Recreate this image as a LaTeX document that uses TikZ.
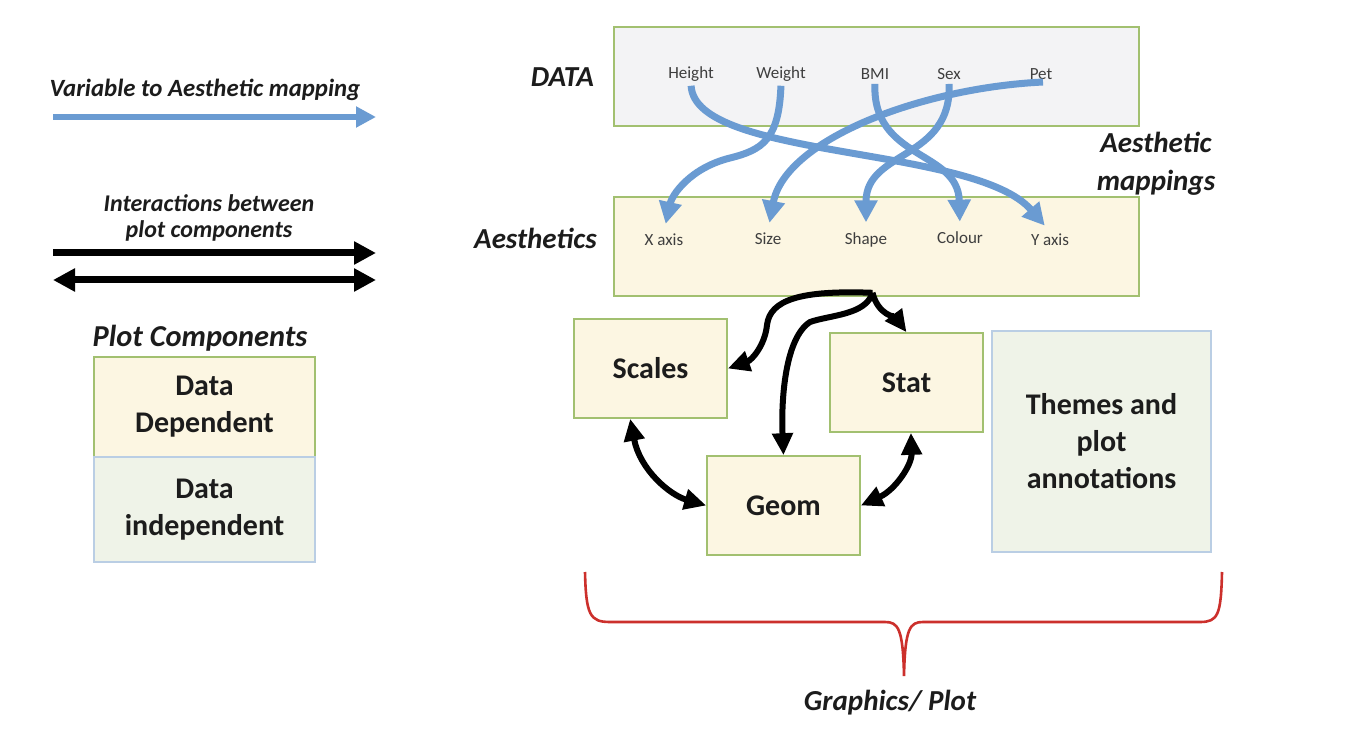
\documentclass[tikz,border=0pt]{standalone}
\usepackage{fontspec}
\setmainfont{Carlito}
\usetikzlibrary{arrows.meta}
\usetikzlibrary{positioning}

\definecolor{boxgreen}{RGB}{162,192,112}
\definecolor{boxblue}{RGB}{186,206,228}
\definecolor{creamfill}{RGB}{252,246,226}
\definecolor{grayfill}{RGB}{243,243,245}
\definecolor{palefill}{RGB}{239,243,232}
\definecolor{mapblue}{RGB}{106,155,210}
\definecolor{bracered}{RGB}{204,48,44}
\definecolor{textdark}{RGB}{28,28,28}

\begin{document}
\begin{tikzpicture}[x=0.5pt,y=-0.5pt]

\tikzset{
  % the boxes of the plot components
  compbox/.style={draw=boxgreen, line width=0.8pt, fill=creamfill, inner sep=0pt,
    align=center, text=textdark, font=\fontsize{15}{18.5}\selectfont\bfseries},
  freebox/.style={compbox, draw=boxblue, fill=palefill},
  % small labels of variables and aesthetics
  varlabel/.style={inner sep=1pt, text=textdark!85, font=\fontsize{8.5}{10}\selectfont},
  % bold italic captions
  caption/.style={inner sep=0pt, align=center, text=textdark,
    font=\fontsize{14.5}{19}\selectfont\bfseries\itshape},
  legtext/.style={caption, font=\fontsize{12}{13}\selectfont\bfseries\itshape},
  % connectors
  mapline/.style={draw=mapblue, line width=3.5pt, line cap=butt,
    -{Triangle[length=11pt,width=11pt]}},
  flowline/.style={draw=black, line width=3pt, -{Triangle[length=11pt,width=10pt]}},
  flowboth/.style={draw=black, line width=3pt,
    {Triangle[length=11pt,width=10pt]}-{Triangle[length=11pt,width=10pt]}},
}

\fill[white] (0,0) rectangle (1364,732);
\useasboundingbox (0,0) rectangle (1364,732);

% legend
\coordinate (mapL) at (53,117);
\coordinate (mapR) at (376,117);
\draw[mapline, line width=3pt, -{Triangle[length=10pt,width=10pt]}] (mapL) -- (mapR);
\node[legtext, font=\fontsize{12.4}{14}\selectfont\bfseries\itshape] (maptext) at (205,90) {Variable to Aesthetic mapping};

\node[legtext] (inttext) at (209,218) {Interactions between\\plot components};
\coordinate (intL) at (53,253);
\coordinate (intR) at (376,253);
\coordinate (bothL) at (53,280);
\coordinate (bothR) at (376,280);
\draw[line width=3.5pt, -{Triangle[length=11pt,width=11pt]}] (intL) -- (intR);
\draw[line width=3.5pt, {Triangle[length=11pt,width=11pt]}-{Triangle[length=11pt,width=11pt]}] (bothL) -- (bothR);

\node[caption, font=\fontsize{15.2}{19}\selectfont\bfseries\itshape] (plotcomp) at (200,338) {Plot Components};
\node[compbox, minimum width=110.5pt, minimum height=50pt] (dep) at (204.5,407) {Data\\Dependent};
\node[freebox, minimum width=110.5pt, minimum height=52.5pt] (indep) at (204.5,509.5) {Data\\independent};

% data and aesthetics
\node[compbox, fill=grayfill, minimum width=262.5pt, minimum height=49.5pt] (data) at (876.5,76.5) {};
\node[compbox, minimum width=262.5pt, minimum height=49.5pt] (aes) at (876.5,246.5) {};
\node[caption, left=9.5pt of data, yshift=-0.5pt] (datatext) {DATA};
\node[caption, left=8pt of aes, yshift=4pt] (aestext) {Aesthetics};
\node[caption] (mapping) at (1156,164) {Aesthetic\\mappings};

\node[varlabel] (height) at (691,74) {Height};
\node[varlabel] (weight) at (781,74) {Weight};
\node[varlabel] (bmi) at (875,74) {BMI};
\node[varlabel] (sex) at (949,74) {Sex};
\node[varlabel] (pet) at (1041,74) {Pet};

\node[varlabel] (xax) at (664,240) {X axis};
\node[varlabel] (size) at (768,239) {Size};
\node[varlabel] (shape) at (866,240) {Shape};
\node[varlabel] (colour) at (960,238) {Colour};
\node[varlabel] (yax) at (1050,240) {Y axis};

\draw[mapline, shorten <=1pt, shorten >=4pt] (height.south) .. controls (695,160) and (975,145) .. (yax.north);
\draw[mapline, shorten <=1pt, shorten >=4pt] (weight.south) .. controls (779,140) and (762,150) .. (730,158)
    .. controls (690,168) and (672,195) .. (xax.north);
\draw[mapline, shorten <=1pt, shorten >=4pt] (bmi.south) .. controls (872,160) and (958,150) .. (colour.north);
\draw[mapline, shorten <=1pt, shorten >=4pt] (sex.south) .. controls (952,160) and (866,150) .. (shape.north);
\draw[mapline, shorten <=1pt, shorten >=4pt] ([xshift=2pt]pet.south) .. controls (920,88) and (785,140) .. (size.north);

% plot components
\node[compbox, minimum width=76.5pt, minimum height=49.5pt] (scales) at (650.5,368.5) {Scales};
\node[compbox, minimum width=76.5pt, minimum height=49.5pt] (stat) at (906.5,382.5) {Stat};
\node[compbox, minimum width=76.5pt, minimum height=49.5pt] (geom) at (783.5,505.5) {Geom};
\node[freebox, minimum width=109.5pt, minimum height=110.5pt] (themes) at (1101.5,441.5) {Themes and\\plot\\annotations};

\draw[flowline] ([xshift=-2pt,yshift=2pt]aes.south) .. controls (800,290) and (770,300) .. (767,325)
    .. controls (765,345) and (752,360) .. (scales.east);
\draw[flowline] ([xshift=-2pt,yshift=2pt]aes.south) .. controls (866,315) and (830,315) .. (810,322)
    .. controls (785,338) and (781,400) .. (geom.north);
\draw[flowline] ([xshift=-2pt,yshift=2pt]aes.south) .. controls (878,315) and (896,318) .. (stat.north);
\draw[flowboth] (scales.-112) .. controls (640,470) and (670,495) .. (geom.west);
\draw[flowboth] (geom.east) .. controls (895,490) and (912,465) .. (stat.-85);

% brace
\draw[bracered, line width=1.3pt] (585,572) .. controls (586,615) and (590,622) .. (610,622) -- (885,622)
    .. controls (898,622) and (903,628) .. (904,676)
    .. controls (905,628) and (910,622) .. (923,622) -- (1200,622)
    .. controls (1218,622) and (1221,615) .. (1222,572);
\node[caption] (graphics) at (890,703) {Graphics/ Plot};

\end{tikzpicture}
\end{document}
